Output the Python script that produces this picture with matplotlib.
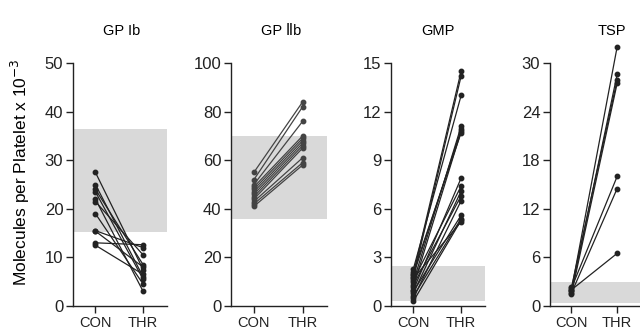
import matplotlib.pyplot as plt

plt.rcParams['font.family'] = ['Liberation Sans', 'DejaVu Sans']

groups = ["CON", "THR"]

# GP Ib
gp1b_con = [27.5, 25.0, 24.0, 23.5, 22.0, 21.5, 19.0, 15.5, 15.4, 13.0, 12.5]
gp1b_thr = [7.5, 6.0, 8.5, 5.5, 3.0, 10.5, 4.5, 12.0, 8.0, 12.6, 6.5]
gp1b_norm = (15.2, 36.4)

# GP IIb
gp2b_con = [55, 52, 50, 49, 48, 47, 46, 45, 44, 43, 42, 41]
gp2b_thr = [84, 82, 76, 70, 69, 68, 67, 66, 65, 61, 59, 58]
gp2b_norm = (35.7, 70.0)

# GMP
gmp_con = [2.0, 1.8, 2.3, 1.5, 1.9, 1.2, 2.1, 1.0, 1.6, 0.8, 1.3, 0.5, 0.9, 0.6, 0.3, 1.7]
gmp_thr = [14.5, 14.2, 13.0, 11.1, 10.9, 10.8, 10.7, 7.9, 7.4, 7.1, 6.8, 6.5, 5.6, 5.4, 5.3, 5.2]
gmp_norm = (0.3, 2.5)

# TSP
tsp_con = [2.0, 1.8, 2.3, 1.5, 2.2, 1.6, 2.0]
tsp_thr = [32.0, 28.6, 27.9, 27.5, 16.0, 14.5, 6.5]
tsp_norm = (0.4, 3.0)

panels = [
    ("GP Ib", gp1b_con, gp1b_thr, gp1b_norm, 50, [0, 10, 20, 30, 40, 50], '#222222'),
    ("GP \u2161b", gp2b_con, gp2b_thr, gp2b_norm, 100, [0, 20, 40, 60, 80, 100], '#444444'),
    ("GMP", gmp_con, gmp_thr, gmp_norm, 15, [0, 3, 6, 9, 12, 15], '#222222'),
    ("TSP", tsp_con, tsp_thr, tsp_norm, 30, [0, 6, 12, 18, 24, 30], '#222222'),
]

# axes left/right edges in pixels
edges = [(73, 167), (231, 327), (391, 485), (550, 640)]
title_x = [122, 281, 438, 612]

fig = plt.figure(figsize=(6.4, 3.32), dpi=100)
W, H = 640, 332
bottom, top = 306, 63

for (title, con, thr, norm, ymax, ticks, col), (l, r), tx in zip(panels, edges, title_x):
    ax = fig.add_axes([l / W, 1 - bottom / H, (r - l) / W, (bottom - top) / H])
    ax.axhspan(norm[0], norm[1], color='#d9d9d9', lw=0, zorder=0)
    for c, t in zip(con, thr):
        ax.plot([0, 1], [c, t], color=col, lw=0.9, marker='o', ms=3.2,
                clip_on=False, zorder=3)
    ax.set_xlim(-0.47, 1.5)
    ax.set_ylim(0, ymax)
    ax.set_yticks(ticks)
    ax.set_yticklabels([str(v) for v in ticks], fontsize=12)
    ax.set_xticks([0, 1])
    ax.set_xticklabels(groups, fontsize=10.5)
    for s in ['top', 'right']:
        ax.spines[s].set_visible(False)
    for s in ['left', 'bottom']:
        ax.spines[s].set_color('#222222')
        ax.spines[s].set_linewidth(1.0)
    ax.tick_params(direction='out', length=5, width=1, colors='#222222', pad=2)
    fig.text(tx / W, 1 - 31 / H, title, ha='center', va='center', fontsize=10.5)

fig.text(20 / W, 1 - 172 / H, "Molecules per Platelet x 10$^{-3}$", rotation=90,
         ha='center', va='center', fontsize=12.5)

fig.savefig("out.png", dpi=100, facecolor='white')
